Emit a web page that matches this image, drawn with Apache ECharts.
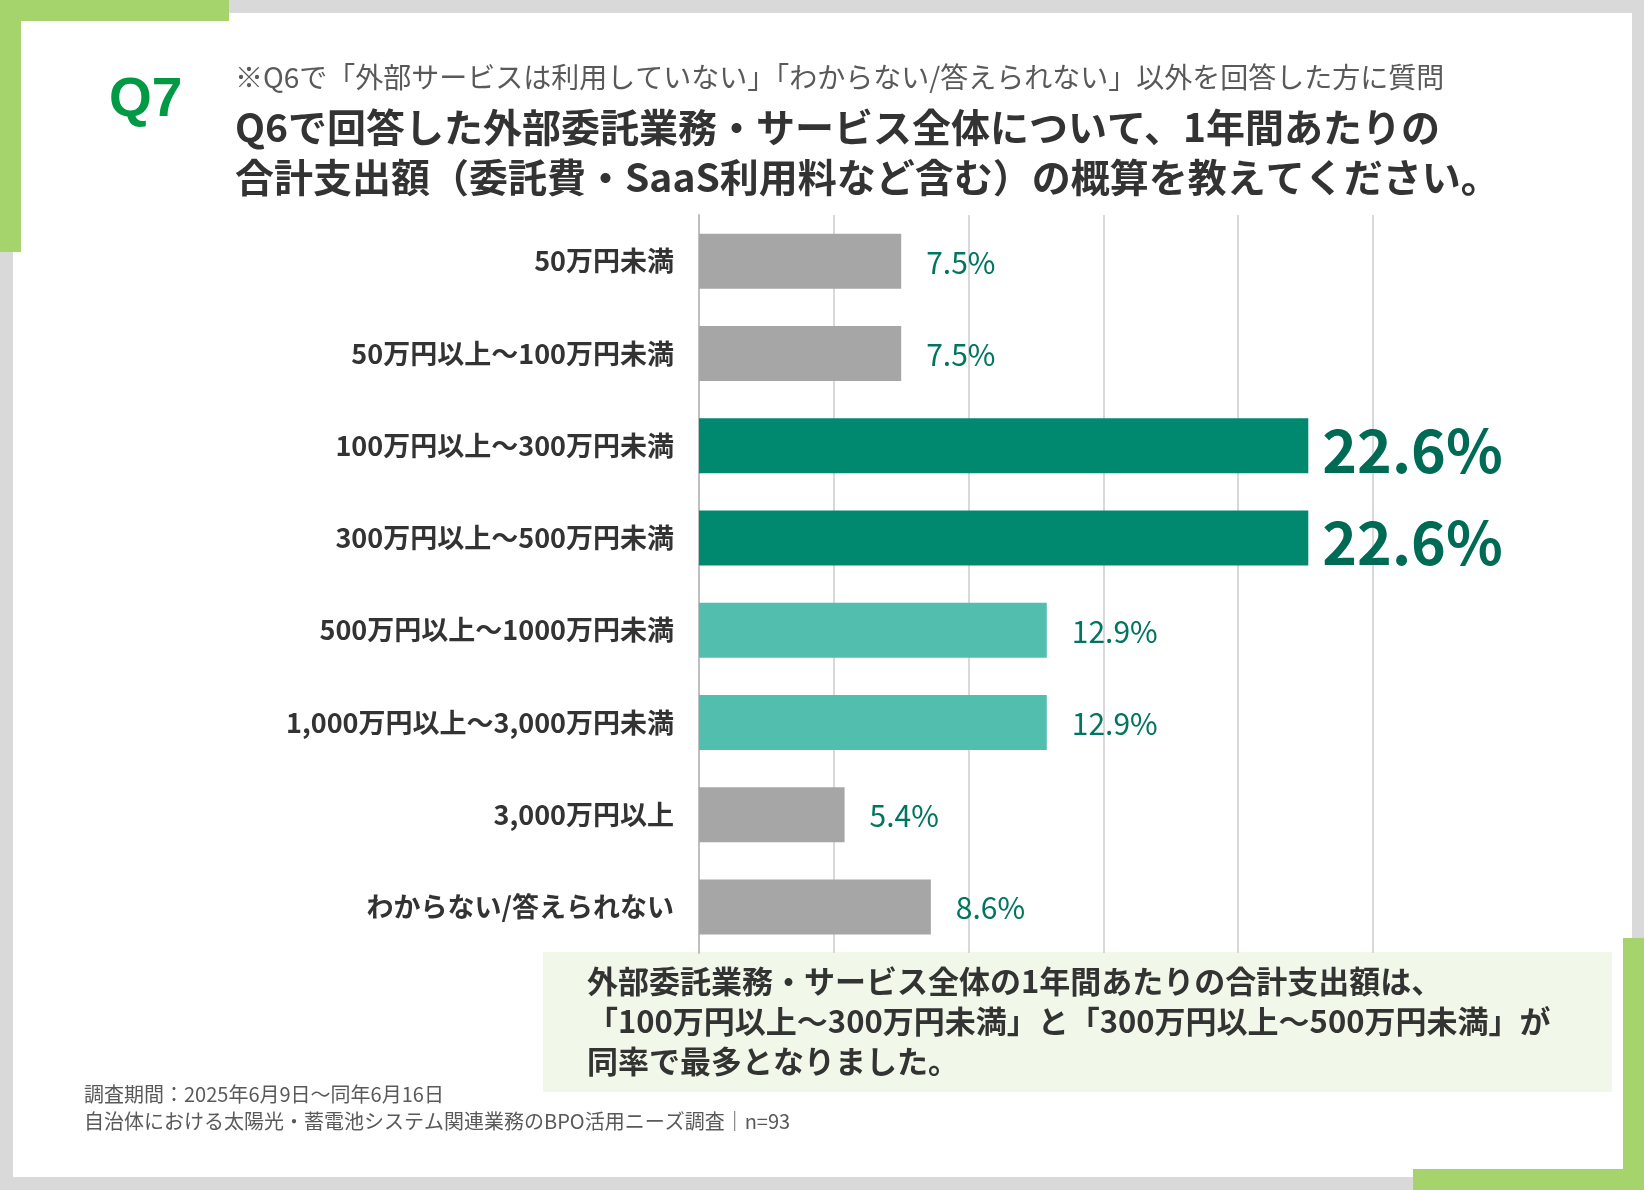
<!DOCTYPE html>
<html><head><meta charset="utf-8">
<script src="https://cdn.jsdelivr.net/npm/echarts@6/dist/echarts.min.js"></script>
<style>html,body{margin:0;padding:0;background:#fff}#c{width:1644px;height:1190px}</style>
</head><body><div id="c"></div>
<script>
// データ
const categories = ['50万円未満', '50万円以上～100万円未満', '100万円以上～300万円未満', '300万円以上～500万円未満',
  '500万円以上～1000万円未満', '1,000万円以上～3,000万円未満', '3,000万円以上', 'わからない/答えられない'];
const values = [7.5, 7.5, 22.6, 22.6, 12.9, 12.9, 5.4, 8.6];
const barColors = ['#a6a6a6', '#a6a6a6', '#00896f', '#00896f', '#52bead', '#52bead', '#a6a6a6', '#a6a6a6'];
const xTicks = [0, 5, 10, 15, 20, 25];

const s = 1644 / 1568;
const S = v => Math.round(v * s);
const font = '"Noto Sans CJK JP", "Noto Sans", sans-serif';

let myChart = echarts.init(document.getElementById('c'));
let option = {
  animation: false,
  textStyle: { fontFamily: font },
  grid: { left: S(667), right: 1644 - S(1310), top: S(205), bottom: 1190 - S(909) },
  xAxis: {
    type: 'value', min: xTicks[0], max: xTicks[xTicks.length - 1], interval: 5,
    axisLabel: { show: false }, axisLine: { show: false }, axisTick: { show: false },
    splitLine: { lineStyle: { color: '#d9d9d9', width: 2 } }
  },
  yAxis: {
    type: 'category', inverse: true, data: categories,
    axisTick: { show: false },
    axisLine: { lineStyle: { color: '#bfbfbf', width: 2 } },
    axisLabel: { color: '#333', fontSize: S(26), fontWeight: 'bold', margin: S(24), verticalAlign: 'middle', padding: [0, 0, S(8), 0] }
  },
  series: [{
    type: 'bar', barWidth: S(52),
    data: values.map((v, i) => ({ value: v, itemStyle: { color: barColors[i] } })),
    label: {
      show: true, position: 'right', distance: S(30),
      formatter: p => p.value >= 20 ? '{big|' + p.value.toFixed(1) + '%}' : '{sm|' + p.value.toFixed(1) + '%}',
      rich: {
        big: { fontSize: S(56), fontWeight: 'bold', color: '#006b55', fontFamily: font, padding: [S(10), 0, 0, -S(16)] },
        sm: { fontSize: S(29), color: '#007560', fontFamily: font, padding: [S(2), 0, 0, -S(6)] }
      }
    }
  }],
  graphic: [
    { type: 'rect', z: -10, shape: { x: 0, y: 0, width: 1644, height: 1190 }, style: { fill: '#d9d9d9' } },
    { type: 'rect', z: -9, shape: { x: S(12), y: S(12), width: S(1544), height: S(1110) }, style: { fill: '#fff' } },
    { type: 'rect', shape: { x: 0, y: 0, width: S(218), height: S(20) }, style: { fill: '#a5d46c' } },
    { type: 'rect', shape: { x: 0, y: 0, width: S(20), height: S(240) }, style: { fill: '#a5d46c' } },
    { type: 'rect', shape: { x: S(1348), y: S(1115), width: 1644 - S(1348), height: 1190 - S(1115) }, style: { fill: '#a5d46c' } },
    { type: 'rect', shape: { x: S(1548), y: S(895), width: 1644 - S(1548), height: 1190 - S(895) }, style: { fill: '#a5d46c' } },
    { type: 'text', left: S(104), top: S(70), style: { text: 'Q7', fill: '#009944', font: 'bold ' + S(52) + 'px Liberation Sans, Arial, sans-serif' } },
    { type: 'text', left: S(224), top: S(60), style: { text: '※Q6で「外部サービスは利用していない」「わからない/答えられない」以外を回答した方に質問', fill: '#595959', font: S(26.5) + 'px ' + font } },
    { type: 'text', left: S(224), top: S(97), style: { text: 'Q6で回答した外部委託業務・サービス全体について、1年間あたりの\n合計支出額（委託費・SaaS利用料など含む）の概算を教えてください。', fill: '#333', font: 'bold ' + S(37.5) + 'px ' + font, lineHeight: S(48) } },
    { type: 'rect', shape: { x: S(518), y: S(908), width: S(1020), height: S(134) }, style: { fill: '#f1f8e9' } },
    { type: 'text', left: S(560), top: S(917), style: { text: '外部委託業務・サービス全体の1年間あたりの合計支出額は、\n「100万円以上～300万円未満」と「300万円以上～500万円未満」が\n同率で最多となりました。', fill: '#333', font: 'bold ' + S(30) + 'px ' + font, lineHeight: S(38) } },
    { type: 'text', left: S(80), top: S(1031), style: { text: '調査期間：2025年6月9日～同年6月16日\n自治体における太陽光・蓄電池システム関連業務のBPO活用ニーズ調査｜n=93', fill: '#595959', font: S(19) + 'px ' + font, lineHeight: S(26) } }
  ]
};
myChart.setOption(option);
window.addEventListener('resize', function() { myChart.resize(); });
</script></body></html>
